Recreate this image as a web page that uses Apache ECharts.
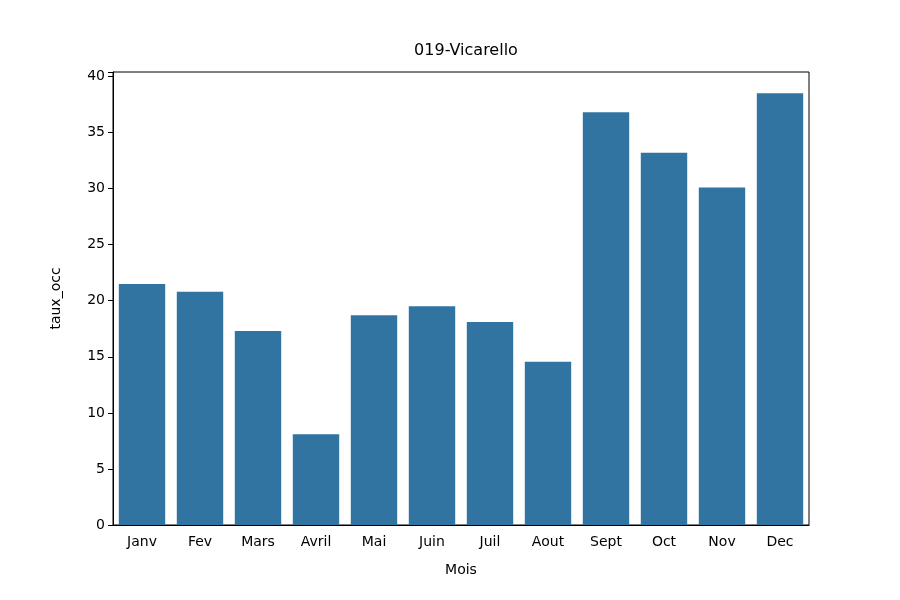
<!DOCTYPE html>
<html><head><meta charset="utf-8">
<script src="https://cdn.jsdelivr.net/npm/echarts@6/dist/echarts.min.js"></script>
<style>body{margin:0}#c{width:900px;height:600px}</style></head>
<body><div id="c"></div>
<script>
const categories = ["Janv","Fev","Mars","Avril","Mai","Juin","Juil","Aout","Sept","Oct","Nov","Dec"];
const values = [21.5,20.8,17.3,8.1,18.7,19.5,18.1,14.55,36.8,33.2,30.1,38.5];
const font = "DejaVu Sans";
const chart = echarts.init(document.getElementById('c'));
chart.setOption({
  animation:false,
  title:{text:"019-Vicarello",left:461,top:38,textAlign:'center',textStyle:{fontFamily:font,fontSize:16,fontWeight:'normal',color:'#000'}},
  grid:{left:113,right:91,top:72,bottom:75,show:true,borderColor:'#000',borderWidth:1},
  xAxis:{type:'category',data:categories,name:'Mois',nameLocation:'middle',nameGap:38,
    nameTextStyle:{fontFamily:font,fontSize:14,color:'#000'},
    axisLine:{lineStyle:{color:'#000'}},axisTick:{alignWithLabel:true,lineStyle:{color:'#000'},length:5},
    axisLabel:{fontFamily:font,fontSize:14,color:'#000',margin:10}},
  yAxis:{type:'value',min:0,max:40.4,interval:5,name:'taux_occ',nameLocation:'middle',nameGap:50,
    nameTextStyle:{fontFamily:font,fontSize:14,color:'#000'},
    splitLine:{show:false},axisLine:{show:true,lineStyle:{color:'#000'}},axisTick:{show:true,length:5,lineStyle:{color:'#000'}},
    axisLabel:{fontFamily:font,fontSize:14,color:'#000',formatter:v=>(v%5===0?v:'')}},
  series:[{type:'bar',data:values,barCategoryGap:'20%',itemStyle:{color:'#3274a1'}}]
});
</script></body></html>
